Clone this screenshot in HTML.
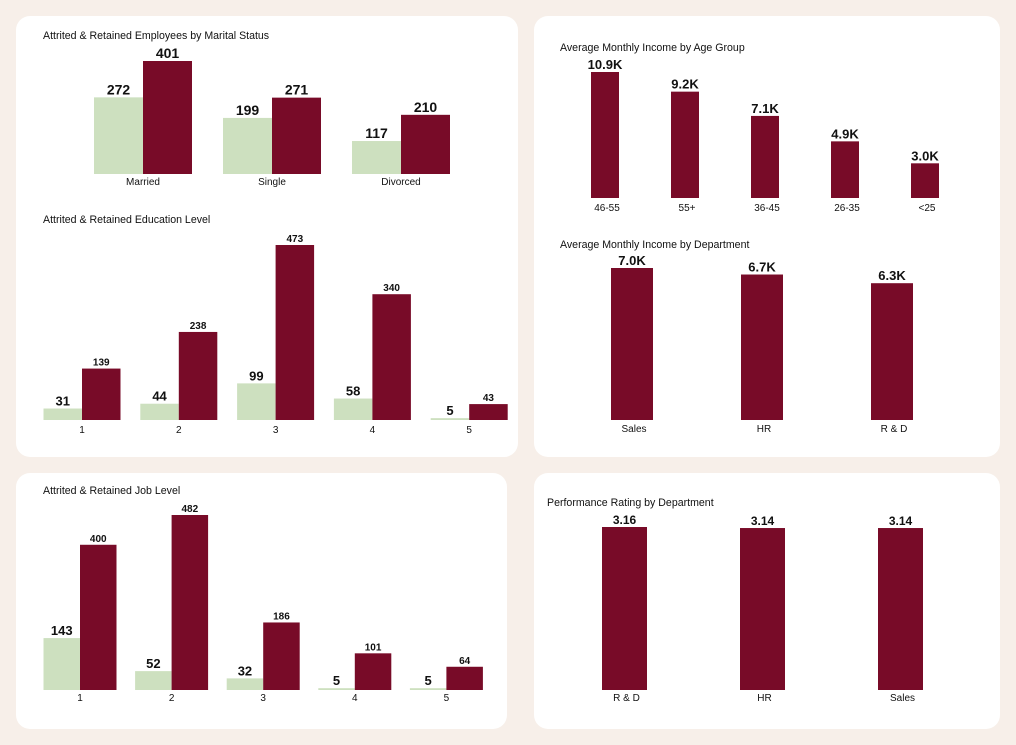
<!DOCTYPE html>
<html><head><meta charset="utf-8">
<style>
body{margin:0;width:1016px;height:745px;background:#f7efe9;position:relative;overflow:hidden;font-family:"Liberation Sans",Arial,sans-serif;}
.card{position:absolute;background:#fff;border-radius:14px;}
svg{position:absolute;left:0;top:0;}
</style></head><body>
<div class="card" style="left:16px;top:16px;width:502px;height:441px"></div>
<div class="card" style="left:16px;top:473px;width:491px;height:256px"></div>
<div class="card" style="left:534px;top:16px;width:466px;height:441px"></div>
<div class="card" style="left:534px;top:473px;width:466px;height:256px"></div>
<svg id="s" width="1016" height="745"></svg>
<script>
const maritalCats=["Married","Single","Divorced"];
const maritalAttrited=[272,199,117];
const maritalRetained=[401,271,210];
const eduCats=["1","2","3","4","5"];
const eduAttrited=[31,44,99,58,5];
const eduRetained=[139,238,473,340,43];
const jobCats=["1","2","3","4","5"];
const jobAttrited=[143,52,32,5,5];
const jobRetained=[400,482,186,101,64];
const ageCats=["46-55","55+","36-45","26-35","<25"];
const ageIncome=[10.9,9.2,7.1,4.9,3.0];
const deptCats=["Sales","HR","R & D"];
const deptIncome=[7.0,6.7,6.3];
const perfCats=["R & D","HR","Sales"];
const perfRating=[3.16,3.14,3.14];

const GREEN="#cde0bf",RED="#780b28";
const svg=document.getElementById('s');
const NS="http://www.w3.org/2000/svg";
function el(tag,attrs,parent){const e=document.createElementNS(NS,tag);for(const k in attrs)e.setAttribute(k,attrs[k]);(parent||svg).appendChild(e);return e;}
function txt(x,y,s,size,weight,anchor,name){const t=el('text',{x:x,y:y,'font-size':size,'font-weight':weight,'text-anchor':anchor,fill:'#111'});t.textContent=s;


return t;}
function title(x,y,s,name){txt(x,y,s,10.6,'normal','start',name);}

function grouped(cfg){
  const {cats,a,r,x0,step,bw,base,scale,labY,sizeA,sizeR,prefix}=cfg;
  cats.forEach((c,i)=>{
    const cx=x0+i*step;
    const ha=a[i]*scale, hr=r[i]*scale;
    const ra=el('rect',{x:cx-bw,y:base-ha,width:bw,height:ha,fill:GREEN});
    
    
    const rr=el('rect',{x:cx,y:base-hr,width:bw,height:hr,fill:RED});
    
    
    txt(cx-bw/2,base-ha-3,a[i],sizeA,'bold','middle',prefix+'-attrited-value');
    txt(cx+bw/2,base-hr-3,r[i],sizeR,'bold','middle',prefix+'-retained-value');
    txt(cx,labY,c,10,'normal','middle',prefix+'-x-label');
  });
}
function single(cfg){
  const {cats,v,x0,step,bw,base,scale,labY,size,fmt,prefix}=cfg;
  cats.forEach((c,i)=>{
    const cx=x0+i*step,h=v[i]*scale;
    const b=el('rect',{x:cx-bw/2,y:base-h,width:bw,height:h,fill:RED});
    
    
    txt(cx,base-h-3,fmt(v[i]),size,'bold','middle',prefix+'-value');
    txt(cx+2,labY,c,10,'normal','middle',prefix+'-x-label');
  });
}
title(43,39,"Attrited & Retained Employees by Marital Status","marital-title");
grouped({cats:maritalCats,a:maritalAttrited,r:maritalRetained,x0:143,step:129,bw:49,base:174,scale:113/401,labY:185,sizeA:14,sizeR:14,prefix:'marital'});
title(43,223,"Attrited & Retained Education Level","education-title");
grouped({cats:eduCats,a:eduAttrited,r:eduRetained,x0:82,step:96.8,bw:38.5,base:420,scale:175/473,labY:433,sizeA:13,sizeR:10,prefix:'education'});
title(43,494,"Attrited & Retained Job Level","job-title");
grouped({cats:jobCats,a:jobAttrited,r:jobRetained,x0:80,step:91.6,bw:36.5,base:690,scale:175/482,labY:701,sizeA:13,sizeR:10,prefix:'job'});
title(560,51,"Average Monthly Income by Age Group","age-title");
single({cats:ageCats,v:ageIncome,x0:605,step:80,bw:28,base:198,scale:126/10.9,labY:211,size:13,fmt:v=>v.toFixed(1)+'K',prefix:'age'});
title(560,248,"Average Monthly Income by Department","dept-title");
single({cats:deptCats,v:deptIncome,x0:632,step:130,bw:42,base:420,scale:152/7.0,labY:432,size:13,fmt:v=>v.toFixed(1)+'K',prefix:'dept'});
title(547,506,"Performance Rating by Department","perf-title");
single({cats:perfCats,v:perfRating,x0:624.5,step:138,bw:45,base:690,scale:163/3.16,labY:701,size:12,fmt:v=>v.toFixed(2),prefix:'perf'});
</script>
</body></html>
